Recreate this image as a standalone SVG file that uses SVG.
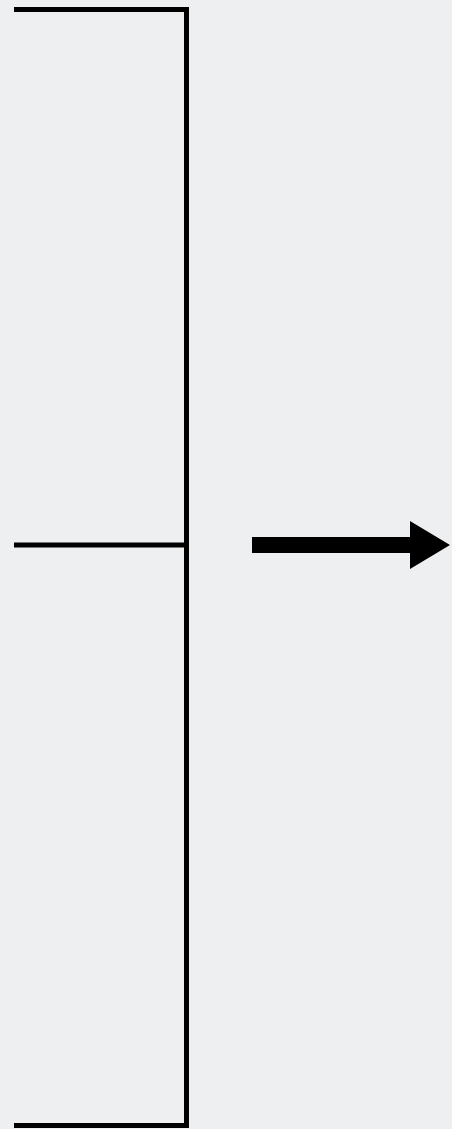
<svg xmlns="http://www.w3.org/2000/svg" width="452" height="1129" viewBox="0 0 452 1129">
<style>
.ln{stroke:#000;stroke-width:5;fill:none}
</style>
<rect width="452" height="1129" fill="#eeeff1"/>
<g id="bracket">
<line class="ln" x1="14" y1="9.5" x2="189" y2="9.5"/>
<line class="ln" x1="186.5" y1="7" x2="186.5" y2="1128"/>
<line class="ln" x1="14" y1="545" x2="186.5" y2="545"/>
<line class="ln" x1="14" y1="1125.5" x2="189" y2="1125.5"/>
</g>
<g id="connectors">
<polygon points="252,537 410,537 410,521 450,545 410,569 410,553 252,553" fill="#000"/>
</g>
</svg>
